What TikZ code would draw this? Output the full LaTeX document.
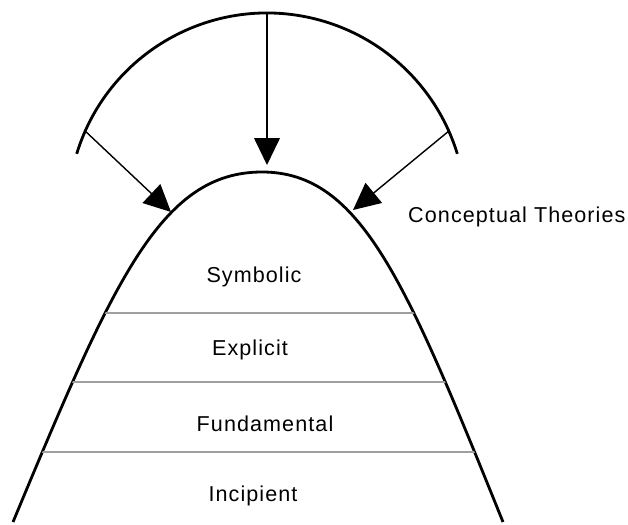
\documentclass[tikz,border=0pt]{standalone}
\usepackage{fontspec}
\setmainfont{Liberation Sans}[LetterSpace=5]
\usetikzlibrary{arrows.meta, calc}

\begin{document}
\begin{tikzpicture}[x=0.03cm, y=0.03cm,
    rim/.style={line width=2.4pt},
    push/.style={line width=1.2pt, -{Triangle[length=23pt, width=22pt]}},
    layer/.style={line width=1.4pt, gray!75},
    lbl/.style={anchor=base, inner sep=0pt, font=\fontsize{18.4}{21}\selectfont}]
    \useasboundingbox (0,0) rectangle (628,524);
    % Outer arc
    \coordinate (ctr) at (267,312);
    \draw[rim] ($(ctr)+(163:199)$) arc[start angle=163, end angle=17, radius=199];
    \coordinate (srcL) at ($(ctr)+(156:199)$);
    \coordinate (srcC) at ($(ctr)+(90:199)$);
    \coordinate (srcR) at ($(ctr)+(24:199)$);
    % Hill
    \draw[rim] (13,2) .. controls (113,242) and (160,352) .. (262,352)
        .. controls (361,352) and (406,242) .. (503,2);
    \begin{scope}
        \clip (13,2) .. controls (113,242) and (160,352) .. (262,352)
            .. controls (361,352) and (406,242) .. (503,2) -- cycle;
        \draw[layer] (0,211) -- (628,211);
        \draw[layer] (0,142) -- (628,142);
        \draw[layer] (0,72) -- (628,72);
    \end{scope}
    % Arrow tips
    \coordinate (tgtL) at (171,312);
    \coordinate (tgtC) at (267,359);
    \coordinate (tgtR) at (353,314);
    \draw[push] (srcL) -- (tgtL);
    \draw[push] (srcC) -- (tgtC);
    \draw[push] (srcR) -- (tgtR);
    % Labels
    \node[lbl, anchor=base west] (theories) at (408,302) {Conceptual Theories};
    \node[lbl] (symbolic) at (254,242) {Symbolic};
    \node[lbl] (explicit) at (250,169) {Explicit};
    \node[lbl] (fundamental) at (265,93) {Fundamental};
    \node[lbl] (incipient) at (253,23) {Incipient};
\end{tikzpicture}
\end{document}
